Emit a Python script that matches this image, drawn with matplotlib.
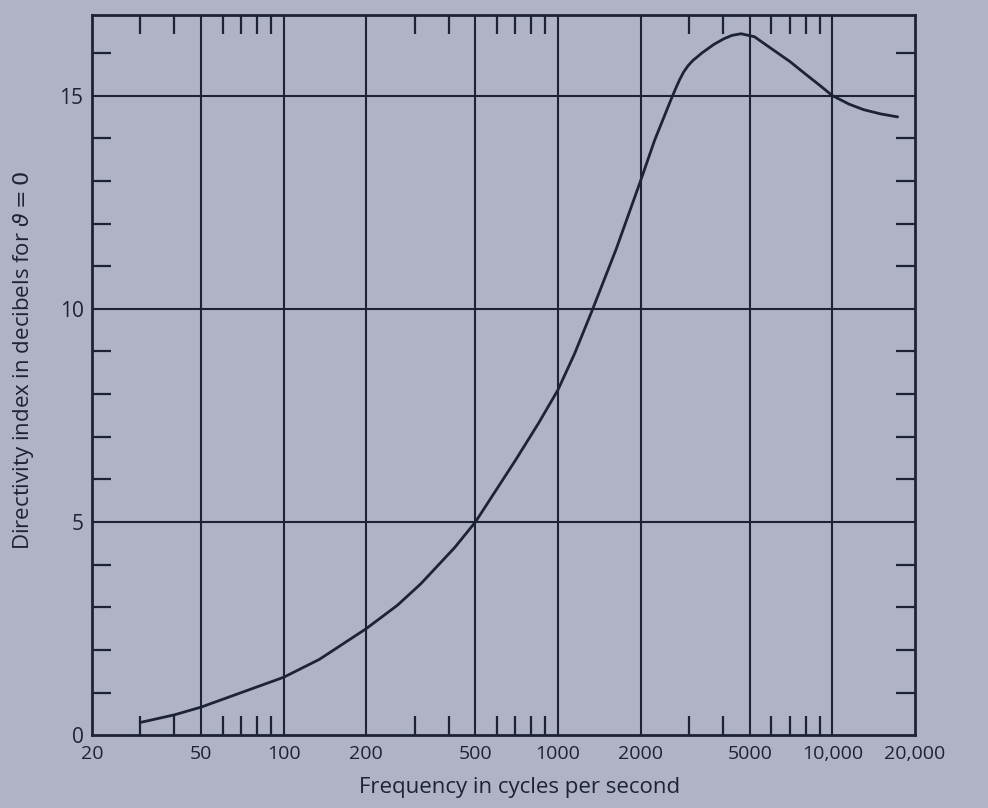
import numpy as np
import matplotlib
matplotlib.use('Agg')
import matplotlib.pyplot as plt
from matplotlib.ticker import FixedLocator, NullFormatter

# values
freq = [30, 40, 50, 70, 100, 135, 200, 260, 316, 420, 500, 700, 850, 1000,
        1150, 1330, 1630, 2000, 2250, 2580, 2700, 2780, 2870, 2980, 3100,
        3350, 3700, 4020, 4300, 4650, 5200, 6000, 7000, 8000, 9000, 10000,
        11500, 13000, 15000, 17300]
di_db = [0.30, 0.48, 0.66, 1.00, 1.36, 1.78, 2.50, 3.05, 3.55, 4.40, 5.00,
         6.45, 7.32, 8.10, 8.95, 9.95, 11.40, 13.00, 13.95, 14.90, 15.20,
         15.38, 15.55, 15.70, 15.82, 16.00, 16.20, 16.33, 16.41, 16.45,
         16.38, 16.10, 15.80, 15.50, 15.24, 15.00, 14.80, 14.67, 14.57,
         14.50]

x_major = [50, 100, 200, 500, 1000, 2000, 5000, 10000]
x_minor = [30, 40, 60, 70, 80, 90, 300, 400, 600, 700, 800, 900,
           3000, 4000, 6000, 7000, 8000, 9000]
x_labels = ['20', '50', '100', '200', '500', '1000', '2000', '5000',
            '10,000', '20,000']
x_label_pos = [20, 50, 100, 200, 500, 1000, 2000, 5000, 10000, 20000]
y_major = [0, 5, 10, 15]
y_minor = [1, 2, 3, 4, 6, 7, 8, 9, 11, 12, 13, 14, 16]

ink = '#1d2236'
paper = '#afb3c4'

plt.rcParams['font.family'] = ['Open Sans', 'DejaVu Sans']
plt.rcParams['mathtext.fontset'] = 'dejavusans'
fig = plt.figure(figsize=(9.88, 8.08), dpi=100, facecolor=paper)
ax = fig.add_axes([0.093, 0.09, 0.833, 0.892])
ax.set_facecolor(paper)

ax.set_xscale('log')
ax.set_xlim(20, 20000)
ax.set_ylim(0, 16.9)

# grid lines
for xv in x_major:
    ax.axvline(xv, color=ink, lw=1.5, zorder=1)
for yv in y_major[1:]:
    ax.axhline(yv, color=ink, lw=1.5, zorder=1)

ax.plot(freq, di_db, color=ink, lw=2.0, zorder=3,
        solid_joinstyle='round', solid_capstyle='round')

for s in ax.spines.values():
    s.set_color(ink)
    s.set_linewidth(2.0)

ax.xaxis.set_major_locator(FixedLocator(x_label_pos))
ax.set_xticklabels(x_labels)
ax.xaxis.set_minor_locator(FixedLocator(x_minor))
ax.xaxis.set_minor_formatter(NullFormatter())
ax.yaxis.set_major_locator(FixedLocator(y_major))
ax.yaxis.set_minor_locator(FixedLocator(y_minor))

ax.tick_params(which='major', length=0, labelsize=14, colors=ink)
ax.tick_params(axis='y', which='major', pad=6, labelsize=15)
ax.tick_params(axis='x', which='major', pad=7)
ax.tick_params(which='minor', direction='in', length=14, width=1.6,
               colors=ink, top=True, bottom=True, left=True, right=True)

ax.set_xlabel('Frequency in cycles per second', fontsize=16, color=ink)
ax.xaxis.set_label_coords(0.52, -0.058)
ax.set_ylabel(r'Directivity index in decibels for $\vartheta = 0$',
              fontsize=16, color=ink)
ax.yaxis.set_label_coords(-0.068, 0.52)

fig.savefig('out.png', dpi=100, facecolor=paper)
